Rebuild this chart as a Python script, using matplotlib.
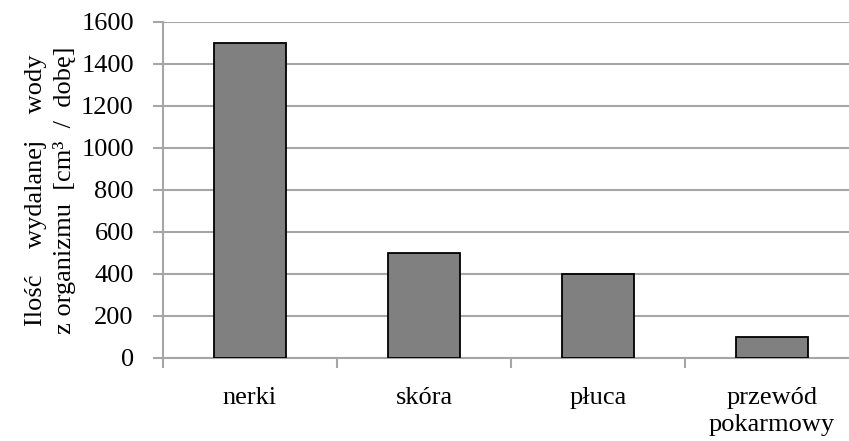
import numpy as np
import matplotlib
matplotlib.use('Agg')
import matplotlib.pyplot as plt

# data
kategorie = ['nerki', 'skóra', 'płuca', 'przewód\npokarmowy']
woda = [1500, 500, 400, 100]
y_ticks = [0, 200, 400, 600, 800, 1000, 1200, 1400, 1600]

plt.rcParams['font.family'] = ['Liberation Serif', 'DejaVu Serif']

fig = plt.figure(figsize=(8.49, 4.41), dpi=100)
ax = fig.add_axes([163/849, 83/441, 1 - 163/849, (358-22)/441])

x = np.arange(len(kategorie))
ax.bar(x, woda, width=0.41, color='#808080', edgecolor='black', linewidth=1.3, zorder=3)

ax.set_ylim(0, 1600)
ax.set_xlim(-0.5, 3.5 - 10/174)
ax.set_yticks(y_ticks)
ax.yaxis.grid(True, color='#a6a6a6', linewidth=1.5, zorder=0)
ax.tick_params(axis='y', length=7, width=1.5, color='#a6a6a6', labelsize=19, pad=14)

ax.set_xticks(x)
ax.set_xticklabels(kategorie, fontsize=19, linespacing=1.3)
ax.set_xticks(np.arange(-0.5, 3.5, 1), minor=True)
ax.tick_params(axis='x', which='major', length=0, pad=21)
ax.tick_params(axis='x', which='minor', length=7, width=1.5, color='#a6a6a6')

for s in ['top', 'right']:
    ax.spines[s].set_visible(False)
for s in ['left', 'bottom']:
    ax.spines[s].set_color('#a6a6a6')
    ax.spines[s].set_linewidth(1.5)

ax.set_ylabel('Ilość    wydalanej    wody\nz organizmu  [cm³  /  dobę]', fontsize=19,
              linespacing=1.3, labelpad=4)

fig.savefig('out.png', dpi=100)
